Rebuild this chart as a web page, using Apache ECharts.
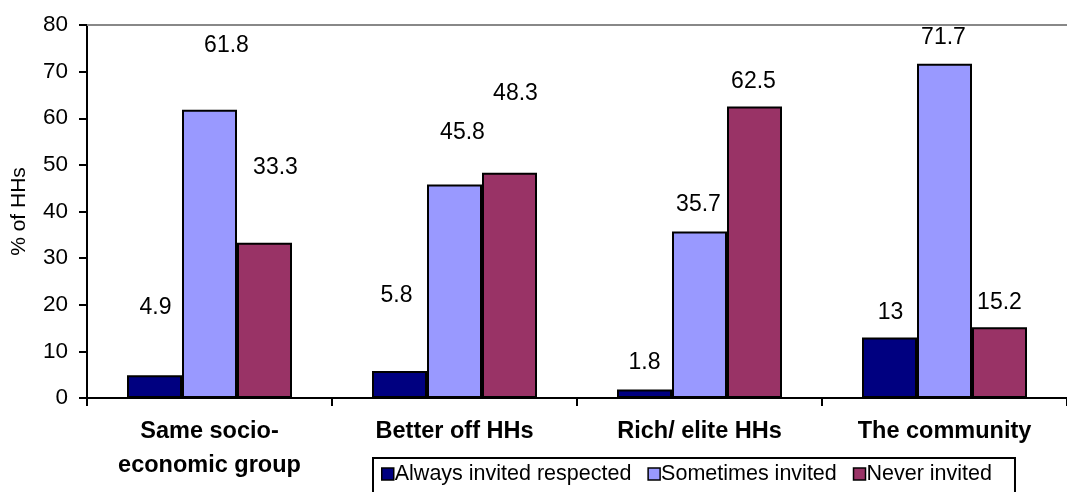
<!DOCTYPE html>
<html>
<head>
<meta charset="utf-8">
<script src="https://cdn.jsdelivr.net/npm/echarts@6/dist/echarts.min.js"></script>
<style>
  html, body { margin: 0; padding: 0; background: #fff; overflow: hidden; }
  #chart { width: 1067px; height: 492px; }
</style>
</head>
<body>
<div id="chart"></div>
<script>
// Who invites the household: share of HHs by relationship group
const categories = ['Same socio-\neconomic group', 'Better off HHs', 'Rich/ elite HHs', 'The community'];
const seriesNames = ['Always invited respected', 'Sometimes invited', 'Never invited'];
const alwaysInvited = [4.9, 5.8, 1.8, 13];
const sometimesInvited = [61.8, 45.8, 35.7, 71.7];
const neverInvited = [33.3, 48.3, 62.5, 15.2];
const yTicks = { min: 0, max: 80, step: 10 };

// Hand-placed value label nudges [dx, dy] per bar (px), one row per series
const labelShift = [
  [[1, -56], [-3, -64], [0, -15], [1, -13]],
  [[17, -53], [8, -40], [-1, -15], [-1, -15]],
  [[11, -64], [6, -68], [-1, -13], [0, -13]]
];

const FONT = '"Liberation Sans", Arial, sans-serif';
const colors = ['#000080', '#9999FF', '#993366'];
const values = [alwaysInvited, sometimesInvited, neverInvited];

const series = values.map((vals, s) => ({
  name: seriesNames[s],
  type: 'bar',
  barWidth: 55,
  barGap: '0%',
  itemStyle: { color: colors[s], borderColor: '#000', borderWidth: 2 },
  label: {
    show: true,
    position: 'top',
    distance: 0,
    color: '#000',
    fontFamily: FONT,
    fontSize: 23
  },
  data: vals.map((v, i) => ({
    value: v,
    label: { offset: labelShift[s][i] }
  }))
}));

const chart = echarts.init(document.getElementById('chart'), null, { renderer: 'canvas' });
chart.setOption({
  animation: false,
  backgroundColor: '#fff',
  textStyle: { fontFamily: FONT },
  grid: { left: 87, top: 25, right: -10, bottom: 94, containLabel: false },
  legend: {
    left: 373,
    top: 458,
    orient: 'horizontal',
    padding: [5, 23, 20, 8],
    borderColor: '#000',
    borderWidth: 2,
    itemGap: 16,
    itemWidth: 12,
    itemHeight: 12,
    icon: 'rect',
    itemStyle: { borderColor: '#000', borderWidth: 1.5 },
    textStyle: { fontFamily: FONT, fontSize: 21.5, color: '#000', padding: [0, 0, 0, -4] },
    data: seriesNames
  },
  xAxis: [
    {
      type: 'category',
      data: categories,
      position: 'bottom',
      axisLine: { lineStyle: { color: '#000', width: 2 } },
      axisTick: { show: true, length: 8, lineStyle: { color: '#000', width: 2 } },
      axisLabel: {
        color: '#000',
        fontFamily: FONT,
        fontWeight: 'bold',
        fontSize: 23.5,
        lineHeight: 34,
        margin: 17,
        interval: 0
      }
    },
    {
      // frame line along the top of the plot area
      type: 'category',
      data: categories,
      position: 'top',
      axisLine: { lineStyle: { color: '#888', width: 2 } },
      axisTick: { show: false },
      axisLabel: { show: false }
    }
  ],
  yAxis: {
    type: 'value',
    min: yTicks.min,
    max: yTicks.max,
    interval: yTicks.step,
    name: '% of HHs',
    nameLocation: 'middle',
    nameGap: 57,
    nameRotate: 90,
    nameTextStyle: { color: '#000', fontFamily: FONT, fontSize: 21 },
    axisLine: { show: true, lineStyle: { color: '#000', width: 2 } },
    axisTick: { show: true, length: 8, lineStyle: { color: '#000', width: 2 } },
    axisLabel: { color: '#000', fontFamily: FONT, fontSize: 22.5, margin: 19 },
    splitLine: { show: false }
  },
  series: series
});
</script>
</body>
</html>
